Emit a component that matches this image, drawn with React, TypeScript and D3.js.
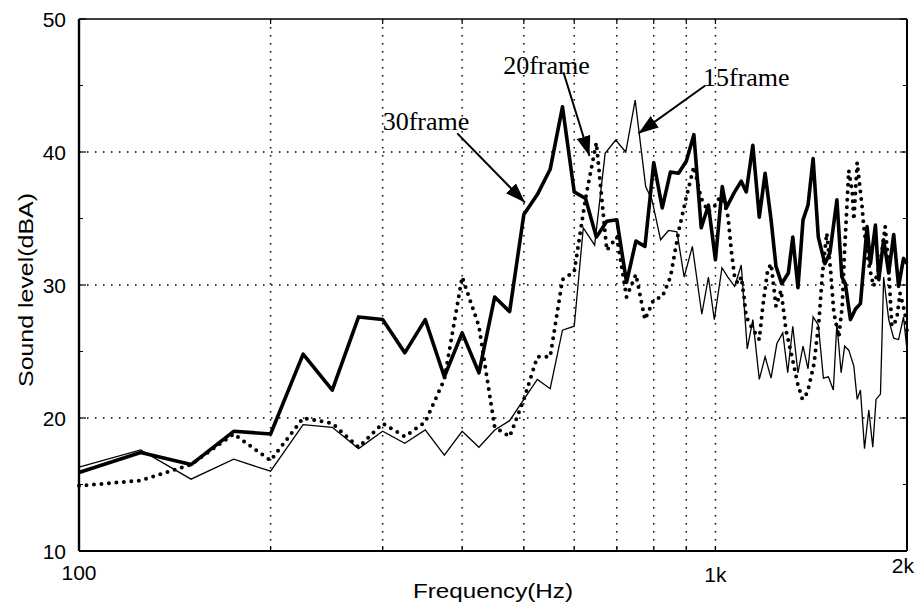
import React from 'react';
import * as d3 from 'd3';

// [frequency Hz, sound level dBA]
const frame30: [number, number][] = [
  [100, 15.9], [125, 17.4], [150, 16.5], [175, 19.0], [200, 18.8], [225, 24.8], [250, 22.1],
  [275, 27.6], [300, 27.4], [325, 24.9], [350, 27.4], [375, 23.1], [400, 26.4], [425, 23.4],
  [450, 29.1], [475, 28.0], [500, 35.3], [525, 36.8], [550, 38.7], [575, 43.4], [600, 37.0],
  [625, 36.5], [650, 33.6], [675, 34.8], [700, 34.9], [725, 30.2], [750, 33.3], [775, 32.9],
  [800, 39.2], [825, 35.8], [850, 38.5], [875, 38.4], [900, 39.3], [925, 41.3], [950, 34.3],
  [975, 36.0], [1000, 31.9], [1025, 37.4], [1040, 35.8], [1072, 37.0], [1098, 37.8], [1118, 37.0],
  [1145, 40.5], [1172, 35.1], [1197, 38.4], [1223, 34.9], [1245, 31.4], [1271, 30.1], [1302, 30.9],
  [1323, 33.6], [1348, 29.8], [1373, 34.9], [1398, 36.0], [1424, 39.5], [1451, 33.6], [1486, 31.6],
  [1513, 32.4], [1552, 36.4], [1580, 30.6], [1600, 30.1], [1630, 27.4], [1660, 28.2], [1690, 28.6],
  [1731, 34.4], [1752, 31.6], [1784, 34.5], [1806, 30.4], [1838, 33.4], [1872, 30.9], [1906, 33.8],
  [1940, 29.9], [1975, 32.0], [2000, 31.6],
];

const frame15: [number, number][] = [
  [100, 16.3], [125, 17.6], [150, 15.4], [175, 16.9], [200, 16.0], [225, 19.5], [250, 19.3],
  [275, 17.7], [300, 19.0], [325, 18.1], [350, 19.1], [375, 17.2], [400, 19.0], [425, 17.8],
  [450, 19.1], [475, 19.8], [500, 21.4], [525, 22.9], [550, 22.2], [575, 26.6], [600, 26.9],
  [620, 34.3], [646, 33.0], [671, 39.9], [697, 40.9], [723, 40.0], [748, 43.9], [777, 37.4],
  [795, 36.4], [820, 33.4], [844, 34.1], [870, 34.0], [893, 30.6], [920, 32.9], [952, 27.8],
  [975, 30.6], [996, 27.4], [1024, 31.3], [1046, 30.6], [1072, 29.9], [1098, 31.5], [1122, 25.2],
  [1145, 27.4], [1172, 22.9], [1197, 24.6], [1223, 23.0], [1249, 25.6], [1276, 26.4], [1299, 23.4],
  [1323, 26.9], [1348, 23.4], [1373, 25.4], [1398, 23.7], [1424, 27.6], [1451, 27.0], [1478, 23.0],
  [1505, 23.1], [1532, 22.1], [1552, 27.1], [1576, 23.4], [1596, 25.4], [1620, 25.1], [1650, 23.9],
  [1670, 21.4], [1690, 22.1], [1715, 17.7], [1742, 20.6], [1767, 17.8], [1788, 21.4], [1817, 21.8],
  [1838, 30.6], [1872, 27.4], [1906, 26.0], [1940, 25.9], [1975, 27.6], [2000, 25.1],
];

const frame20: [number, number][] = [
  [100, 14.9], [125, 15.3], [150, 16.5], [175, 18.8], [200, 16.8], [225, 20.0], [250, 19.6],
  [275, 17.8], [300, 19.6], [325, 18.6], [350, 19.7], [375, 22.9], [400, 30.6], [425, 26.9],
  [450, 19.3], [475, 18.6], [500, 21.4], [525, 24.6], [550, 24.6], [575, 30.4], [600, 31.0],
  [625, 36.5], [650, 40.7], [675, 32.6], [700, 33.6], [725, 29.1], [750, 30.8], [775, 27.4],
  [800, 28.9], [825, 29.1], [850, 30.6], [875, 34.0], [900, 36.6], [925, 38.9], [950, 36.5],
  [975, 35.5], [1000, 36.0], [1024, 36.9], [1047, 35.1], [1059, 32.6], [1072, 30.6], [1085, 30.1],
  [1098, 30.6], [1109, 29.1], [1118, 27.6], [1138, 26.9], [1172, 25.9], [1187, 28.4], [1208, 31.1],
  [1223, 31.6], [1245, 28.4], [1268, 29.6], [1291, 26.6], [1322, 24.4], [1346, 22.6], [1370, 21.4],
  [1395, 21.9], [1429, 24.1], [1455, 27.4], [1473, 30.9], [1496, 33.9], [1517, 31.1], [1535, 27.9],
  [1563, 26.1], [1582, 28.4], [1595, 32.4], [1620, 38.6], [1640, 37.1], [1650, 34.9], [1670, 39.2],
  [1700, 35.9], [1710, 34.4], [1741, 31.6], [1772, 29.9], [1815, 31.6], [1848, 34.4], [1870, 31.6],
  [1893, 26.9], [1927, 27.4], [1950, 29.4], [1985, 27.9], [2000, 26.5],
];

const xGrid = [200, 300, 400, 500, 600, 700, 800, 900, 1000];
const yGrid = [20, 30, 40];
const yTicks = [10, 20, 30, 40, 50];
const yMinor = [15, 25, 35, 45];
const xTickLabels: [number, string][] = [[100, '100'], [1000, '1k'], [2000, '2k']];

// annotation: label, text anchor, arrow tail, arrow tip (freq, level)
const notes = [
  { label: '30frame', text: [300, 41.65], from: [393, 41.4], to: [502, 36.2] },
  { label: '20frame', text: [464, 45.9], from: [577, 46.0], to: [634, 39.7] },
  { label: '15frame', text: [956, 45.0], from: [964, 45.0], to: [757, 41.4] },
];

const W = 917, H = 609;
const L = 79, R = 907, T = 19, B = 551;

export default function App() {
  const x = d3.scaleLog().domain([100, 2000]).range([L, R]);
  const y = d3.scaleLinear().domain([10, 50]).range([B, T]);
  const line = d3.line<[number, number]>().x(d => x(d[0])).y(d => y(d[1]));
  const sans = 'Liberation Sans, Arial, sans-serif';
  const serif = 'Liberation Serif, Times New Roman, serif';

  return (
    <svg width={W} height={H} style={{ position: 'absolute', left: 0, top: 0, background: '#fff' }}>
      <defs>
        <marker id="head" markerUnits="userSpaceOnUse" markerWidth="22" markerHeight="14"
          refX="20" refY="7" orient="auto">
          <path d="M0,0 L20,7 L0,14 Z" fill="#000" />
        </marker>
      </defs>
      <rect width={W} height={H} fill="#fff" />

      {/* grid */}
      {xGrid.map(f => (
        <line key={'gx' + f} x1={x(f)} x2={x(f)} y1={T} y2={B} stroke="#000"
          strokeWidth={1.5} strokeDasharray="1.5 6.5" />
      ))}
      {yGrid.map(v => (
        <line key={'gy' + v} x1={L} x2={R} y1={y(v)} y2={y(v)} stroke="#000"
          strokeWidth={1.5} strokeDasharray="1.5 6.5" />
      ))}

      {/* ticks */}
      {yTicks.map(v => (
        <g key={'yt' + v}>
          <line x1={L} x2={L + 7} y1={y(v)} y2={y(v)} stroke="#000" strokeWidth={1.2} />
          <line x1={R} x2={R - 7} y1={y(v)} y2={y(v)} stroke="#000" strokeWidth={1.2} />
        </g>
      ))}
      {yMinor.map(v => (
        <g key={'ym' + v}>
          <line x1={L} x2={L + 4} y1={y(v)} y2={y(v)} stroke="#000" strokeWidth={1} />
          <line x1={R} x2={R - 4} y1={y(v)} y2={y(v)} stroke="#000" strokeWidth={1} />
        </g>
      ))}
      {[...xGrid, 100, 2000].map(f => (
        <g key={'xt' + f}>
          <line x1={x(f)} x2={x(f)} y1={B} y2={B - 5} stroke="#000" strokeWidth={1.2} />
          <line x1={x(f)} x2={x(f)} y1={T} y2={T + 5} stroke="#000" strokeWidth={1.2} />
        </g>
      ))}

      {/* series */}
      <path d={line(frame15) || ''} fill="none" stroke="#000" strokeWidth={1.3} strokeLinejoin="miter" />
      <path d={line(frame20) || ''} fill="none" stroke="#000" strokeWidth={4}
        strokeDasharray="0 7.5" strokeLinecap="round" />
      <path d={line(frame30) || ''} fill="none" stroke="#000" strokeWidth={3.6} strokeLinejoin="round" />

      {/* frame */}
      <line x1={L} x2={R} y1={T} y2={T} stroke="#000" strokeWidth={1.6} />
      <line x1={L} x2={R} y1={B} y2={B} stroke="#000" strokeWidth={2} />
      <line x1={L} x2={L} y1={T} y2={B} stroke="#000" strokeWidth={2.4} />
      <line x1={R} x2={R} y1={T} y2={B} stroke="#000" strokeWidth={2} />

      {/* axis labels */}
      {yTicks.map(v => (
        <text key={'yl' + v} x={66} y={y(v)} dy="0.36em" textAnchor="end"
          fontFamily={sans} fontSize={21}>{v}</text>
      ))}
      {xTickLabels.map(([f, s]) => (
        <text key={'xl' + f} x={f === 2000 ? x(f) + 7 : x(f)} y={f === 2000 ? 573 : f === 1000 ? 582 : 580}
          textAnchor={f === 2000 ? 'end' : 'middle'} fontFamily={sans} fontSize={21}>{s}</text>
      ))}
      <text x={493} y={598} textAnchor="middle" fontFamily={sans} fontSize={21}
        textLength={160} lengthAdjust="spacingAndGlyphs">Frequency(Hz)</text>
      <text transform="translate(33,290) rotate(-90)" textAnchor="middle" fontFamily={sans}
        fontSize={21} textLength={194} lengthAdjust="spacingAndGlyphs">Sound level(dBA)</text>

      {/* annotations */}
      {notes.map(n => (
        <g key={n.label}>
          <line x1={x(n.from[0])} y1={y(n.from[1])} x2={x(n.to[0])} y2={y(n.to[1])}
            stroke="#000" strokeWidth={2} markerEnd="url(#head)" />
          <text x={x(n.text[0])} y={y(n.text[1])} fontFamily={serif} fontSize={26}>{n.label}</text>
        </g>
      ))}
    </svg>
  );
}
